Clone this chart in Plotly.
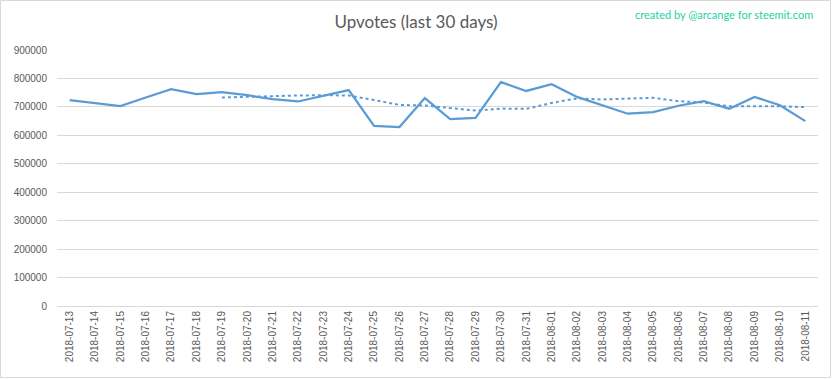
import plotly.graph_objects as go

dates = ["2018-07-13", "2018-07-14", "2018-07-15", "2018-07-16", "2018-07-17", "2018-07-18",
         "2018-07-19", "2018-07-20", "2018-07-21", "2018-07-22", "2018-07-23", "2018-07-24",
         "2018-07-25", "2018-07-26", "2018-07-27", "2018-07-28", "2018-07-29", "2018-07-30",
         "2018-07-31", "2018-08-01", "2018-08-02", "2018-08-03", "2018-08-04", "2018-08-05",
         "2018-08-06", "2018-08-07", "2018-08-08", "2018-08-09", "2018-08-10", "2018-08-11"]

upvotes = [724000, 714000, 703000, 733000, 762000, 745000,
           752000, 741000, 727000, 719000, 738000, 759000,
           633000, 629000, 731000, 657000, 661000, 787000,
           756000, 780000, 735000, 706000, 676000, 682000,
           704000, 720000, 693000, 735000, 706000, 650000]

trend_dates = dates[6:]
trend = [733000, 736000, 738000, 740000, 741000, 740000,
         724000, 707000, 705000, 695000, 687000, 694000,
         693000, 714000, 730000, 726000, 729000, 732000,
         720000, 715000, 702000, 702000, 702000, 699000]

y_ticks = [0, 100000, 200000, 300000, 400000, 500000, 600000, 700000, 800000, 900000]

W, H = 832, 379
ML, MR, MT, MB = 57, 14, 50, 73
pw, ph = W - ML - MR, H - MT - MB

blue = "#5b9bd5"
grey_txt = "#595959"
grid = "#d9d9d9"

fig = go.Figure()
fig.add_trace(go.Scatter(x=dates, y=upvotes, mode="lines",
                         line=dict(color=blue, width=2.25), hoverinfo="x+y"))
fig.add_trace(go.Scatter(x=trend_dates, y=trend, mode="lines",
                         line=dict(color=blue, width=2, dash="dot"), hoverinfo="x+y"))

fig.update_layout(
    width=W, height=H,
    margin=dict(l=ML, r=MR, t=MT, b=MB),
    paper_bgcolor="white", plot_bgcolor="white",
    showlegend=False,
    font=dict(family="Liberation Sans, Arial, sans-serif", color=grey_txt, size=10),
    title=dict(text="Upvotes (last 30 days)", x=0.5, xanchor="center",
               y=1 - 22 / H, yanchor="middle",
               font=dict(family="Lato, sans-serif", size=17, color=grey_txt)),
    xaxis=dict(type="category", categoryorder="array", categoryarray=dates,
               tickangle=-90, showgrid=False, showline=True, linecolor=grid,
               linewidth=1, ticks="", tickfont=dict(size=10, color=grey_txt),
               range=[-0.5, len(dates) - 0.5]),
    yaxis=dict(range=[0, 900000], tickvals=y_ticks, tickformat="d",
               showgrid=True, gridcolor=grid, gridwidth=1, zeroline=False,
               showline=False, ticks="", ticklabelstandoff=9,
               tickfont=dict(size=10, color=grey_txt)),
)

fig.add_annotation(text="created by @arcange for steemit.com", xref="paper", yref="paper",
                   x=1 + (815 - (W - MR)) / pw, y=1 + (MT - 14) / ph,
                   xanchor="right", yanchor="middle", showarrow=False,
                   font=dict(family="Lato, sans-serif", size=11, color="#1fd1a8"))

fig.add_shape(type="rect", xref="paper", yref="paper",
              x0=-(ML - 0.5) / pw, x1=1 + (MR - 1.5) / pw,
              y0=-(MB - 1.5) / ph, y1=1 + (MT - 0.5) / ph,
              line=dict(color=grid, width=1), layer="below")

fig.write_html("out.html", config={"displayModeBar": False},
               post_script="document.body.style.margin='0';document.body.style.overflow='hidden';")
